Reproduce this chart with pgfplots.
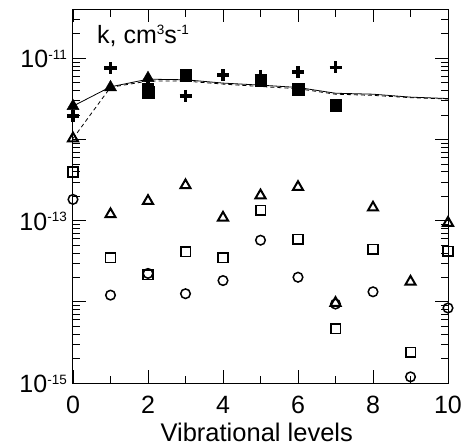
\documentclass[border=0pt]{standalone}
\usepackage{fontspec}
\setmainfont{Liberation Sans}
\usepackage{pgfplots}
\pgfplotsset{compat=1.18}
\usetikzlibrary{calc}
\newcommand\sups[1]{\raisebox{8.5pt}{\fontsize{13.5}{13.5}\selectfont #1}}

\begin{document}
\begin{tikzpicture}
\begin{axis}[name=ax, scale only axis, width=375pt, height=373.5pt,
  ymode=log, xmin=0, xmax=10, ymin=1e-15, ymax=4e-11,
  xtick={0,2,4,6,8,10}, minor xtick={1,3,5,7,9}, xticklabels={0,2,4,6,8,10},
  ytick={1e-15,1e-14,1e-13,1e-12,1e-11},
  yticklabels={10\sups{-15},,10\sups{-13},,10\sups{-11}},
  minor ytick={2e-15,3e-15,4e-15,5e-15,6e-15,7e-15,8e-15,9e-15,
               2e-14,3e-14,4e-14,5e-14,6e-14,7e-14,8e-14,9e-14,
               2e-13,3e-13,4e-13,5e-13,6e-13,7e-13,8e-13,9e-13,
               2e-12,3e-12,4e-12,5e-12,6e-12,7e-12,8e-12,9e-12,
               2e-11,3e-11},
  major tick length=13pt, minor tick length=7.5pt,
  tick style={black, line width=0.9pt},
  axis line style={line width=1pt},
  tick align=inside,
  every tick label/.append style={font=\fontsize{25}{25}\selectfont, inner sep=0pt},
  xticklabel style={anchor=base, yshift=-30pt},
  yticklabel style={anchor=base east, xshift=-6pt, yshift=-9.5pt},
  xlabel={Vibrational levels},
  xlabel style={font=\fontsize{25.5}{25.5}\selectfont, at={(axis description cs:0.49,0)}, anchor=base, yshift=-58.7pt, inner sep=0pt},
  clip=false]

% solid line
\addplot[black, line width=0.8pt, mark=none] coordinates {
(0,2.58e-12) (1,4.46e-12) (2,5.54e-12) (3,5.45e-12) (4,4.96e-12) (5,4.68e-12)
(6,4.38e-12) (7,3.72e-12) (8,3.62e-12) (9,3.33e-12) (10,3.2e-12)};
% dashed line
\addplot[black, line width=0.8pt, dash pattern=on 4pt off 3pt, mark=none] coordinates {
(0,1.03e-12) (1,4.4e-12) (2,5.25e-12) (3,5.25e-12) (4,4.82e-12) (5,4.5e-12)
(6,4.23e-12) (7,3.62e-12) (8,3.5e-12) (9,3.28e-12) (10,3.15e-12)};

% plus markers
\addplot[only marks, black, mark=+, mark size=6pt, mark options={line width=3.8pt}] coordinates {
(0,1.95e-12) (1,7.6e-12) (2,4.7e-12) (3,3.45e-12) (4,6.22e-12) (5,6.1e-12) (6,6.72e-12) (7,7.74e-12)};
% filled squares
\addplot[only marks, black, mark=square*, mark size=5.8pt] coordinates {
(2,3.8e-12) (3,6.22e-12) (5,5.4e-12) (6,4.18e-12) (7,2.65e-12)};
% filled triangles
\addplot[only marks, black, mark=triangle*, mark size=7pt] coordinates {
(0,2.58e-12) (1,4.4e-12) (2,5.71e-12)};

% open triangles
\addplot[only marks, black, mark=triangle, mark size=5.8pt, mark options={line width=2pt}] coordinates {
(0,1.03e-12) (1,1.2e-13) (2,1.75e-13) (3,2.73e-13) (4,1.09e-13) (5,2.05e-13)
(6,2.6e-13) (7,9.7e-15) (8,1.45e-13) (9,1.77e-14) (10,9.4e-14)};
% open squares
\addplot[only marks, black, mark=square, mark size=4.8pt, mark options={line width=1.6pt}] coordinates {
(0,3.98e-13) (1,3.5e-14) (2,2.17e-14) (3,4.14e-14) (4,3.5e-14) (5,1.35e-13)
(6,5.87e-14) (7,4.68e-15) (8,4.43e-14) (9,2.39e-15) (10,4.22e-14)};
% open circles
\addplot[only marks, black, mark=o, mark size=4.8pt, mark options={line width=1.5pt}] coordinates {
(0,1.83e-13) (1,1.21e-14) (2,2.24e-14) (3,1.26e-14) (4,1.83e-14) (5,5.75e-14)
(6,2.01e-14) (7,9.4e-15) (8,1.33e-14) (9,1.19e-15) (10,8.4e-15)};

\node[anchor=base west, inner sep=0pt, font=\fontsize{25}{25}\selectfont] at (rel axis cs:0.064,0.91) {k, cm\sups{3}s\sups{-1}};
\end{axis}
\path ($(ax.south west)+(-73pt,-63pt)$) rectangle ($(ax.north east)+(18pt,9.5pt)$);
\end{tikzpicture}
\end{document}
